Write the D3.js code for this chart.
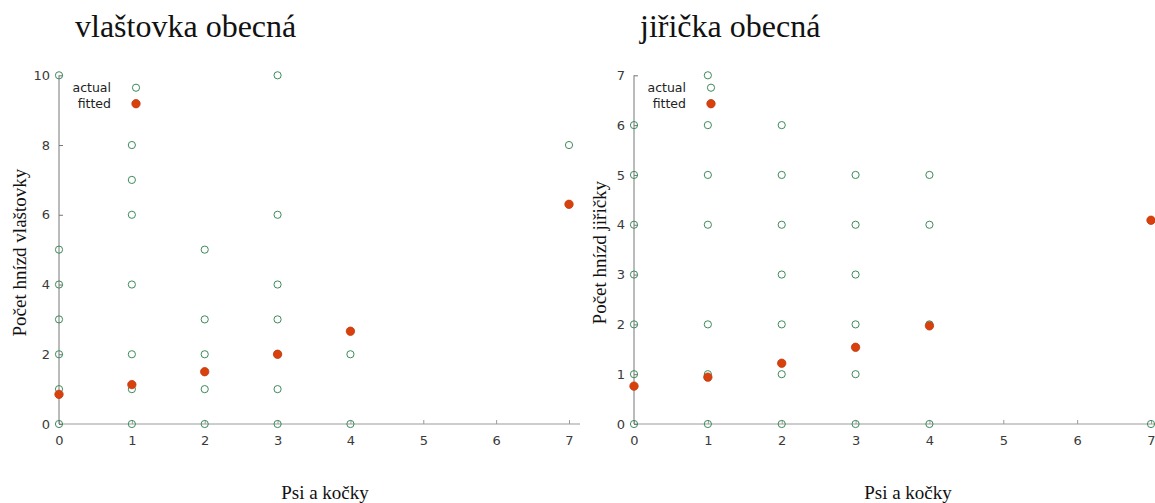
<!DOCTYPE html>
<html>
<head>
<meta charset="utf-8">
<script src="https://cdn.jsdelivr.net/npm/d3@7"></script>
<style>
  html, body { margin: 0; padding: 0; background: #fff; }
  svg { display: block; }
</style>
</head>
<body>
<svg id="chart" width="1155" height="503"></svg>
<script>
// Number of dogs and cats per household
const xTicks = [0, 1, 2, 3, 4, 5, 6, 7];

// Barn swallow (vlaštovka obecná): observed nest counts
const swallowActualX = [0,0,0,0,0,0,0, 1,1,1,1,1,1,1, 2,2,2,2,2, 3,3,3,3,3,3,3, 4,4, 7];
const swallowActualY = [0,1,2,3,4,5,10, 0,1,2,4,6,7,8, 0,1,2,3,5, 0,1,2,3,4,6,10, 0,2, 8];
// Barn swallow: model-fitted values
const swallowFittedX = [0, 1, 2, 3, 4, 7];
const swallowFittedY = [0.85, 1.13, 1.5, 2.0, 2.66, 6.3];
const swallowYTicks = [0, 2, 4, 6, 8, 10];

// House martin (jiřička obecná): observed nest counts
const martinActualX = [0,0,0,0,0,0,0, 1,1,1,1,1,1,1, 2,2,2,2,2,2,2, 3,3,3,3,3,3, 4,4,4,4, 7];
const martinActualY = [0,1,2,3,4,5,6, 0,1,2,4,5,6,7, 0,1,2,3,4,5,6, 0,1,2,3,4,5, 0,2,4,5, 0];
// House martin: model-fitted values
const martinFittedX = [0, 1, 2, 3, 4, 7];
const martinFittedY = [0.76, 0.94, 1.22, 1.54, 1.97, 4.09];
const martinYTicks = [0, 1, 2, 3, 4, 5, 6, 7];

const legendLabels = ["actual", "fitted"];

const svg = d3.select("#chart");

const panels = [
  {
    title: "vlaštovka obecná", titleX: 75,
    yLabel: "Počet hnízd vlaštovky", yLabelX: 26,
    xLabel: "Psi a kočky", xLabelX: 325,
    x0: 59, x1: 569, axisEnd: 580,
    yMax: 10, yTicks: swallowYTicks,
    ax: swallowActualX, ay: swallowActualY,
    fx: swallowFittedX, fy: swallowFittedY,
    legendX: 136
  },
  {
    title: "jiřička obecná", titleX: 640,
    yLabel: "Počet hnízd jiřičky", yLabelX: 606,
    xLabel: "Psi a kočky", xLabelX: 908,
    x0: 634, x1: 1151, axisEnd: 1160,
    yMax: 7, yTicks: martinYTicks,
    ax: martinActualX, ay: martinActualY,
    fx: martinFittedX, fy: martinFittedY,
    legendX: 711
  }
];

const yTop = 75.3, yBottom = 424;
const axisColor = "#9a9a9a";
const tickTextColor = "#3a3a3a";
const green = "#3d8a5c";
const red = "#d8400c";

panels.forEach(p => {
  const x = d3.scaleLinear().domain([0, 7]).range([p.x0, p.x1]);
  const y = d3.scaleLinear().domain([0, p.yMax]).range([yBottom, yTop]);
  const g = svg.append("g");

  // title
  g.append("text")
    .attr("x", p.titleX).attr("y", 37)
    .attr("font-family", "'Liberation Serif', 'Times New Roman', serif")
    .attr("font-size", 32)
    .attr("fill", "#111")
    .text(p.title);

  // x axis with inward ticks
  const xAxis = d3.axisBottom(x).tickValues(xTicks).tickSizeInner(-4).tickSizeOuter(0).tickPadding(12)
    .tickFormat(d3.format("d"));
  const xg = g.append("g").attr("transform", `translate(0,${yBottom})`).call(xAxis);
  xg.select(".domain").remove();
  xg.append("line").attr("x1", p.x0).attr("x2", p.axisEnd).attr("y1", 0).attr("y2", 0)
    .attr("stroke", axisColor);
  xg.selectAll(".tick line").attr("stroke", axisColor);
  xg.selectAll(".tick text")
    .attr("font-family", "'DejaVu Sans', Verdana, sans-serif")
    .attr("font-size", 13).attr("fill", tickTextColor);

  // y axis with inward ticks
  const yAxis = d3.axisLeft(y).tickValues(p.yTicks).tickSizeInner(-4).tickSizeOuter(0).tickPadding(9)
    .tickFormat(d3.format("d"));
  const yg = g.append("g").attr("transform", `translate(${p.x0},0)`).call(yAxis);
  yg.select(".domain").remove();
  yg.append("line").attr("x1", 0).attr("x2", 0).attr("y1", yTop).attr("y2", yBottom)
    .attr("stroke", "#777");
  yg.selectAll(".tick line").attr("stroke", "#777");
  yg.selectAll(".tick text")
    .attr("font-family", "'DejaVu Sans', Verdana, sans-serif")
    .attr("font-size", 13).attr("fill", tickTextColor);

  // axis titles
  g.append("text")
    .attr("transform", `translate(${p.yLabelX},${(yTop + yBottom) / 2 + 3}) rotate(-90)`)
    .attr("text-anchor", "middle")
    .attr("font-family", "'Liberation Serif', 'Times New Roman', serif")
    .attr("font-size", 19).attr("fill", "#111")
    .text(p.yLabel);
  g.append("text")
    .attr("x", p.xLabelX).attr("y", 499)
    .attr("text-anchor", "middle")
    .attr("font-family", "'Liberation Serif', 'Times New Roman', serif")
    .attr("font-size", 19).attr("fill", "#111")
    .text(p.xLabel);

  // observed points (open circles)
  g.append("g").selectAll("circle")
    .data(p.ax.map((v, i) => [v, p.ay[i]]))
    .join("circle")
    .attr("cx", d => x(d[0])).attr("cy", d => y(d[1]))
    .attr("r", 3.6)
    .attr("fill", "none").attr("stroke", green).attr("stroke-width", 1);

  // fitted points (filled)
  g.append("g").selectAll("circle")
    .data(p.fx.map((v, i) => [v, p.fy[i]]))
    .join("circle")
    .attr("cx", d => x(d[0])).attr("cy", d => y(d[1]))
    .attr("r", 4.2)
    .attr("fill", red).attr("stroke", "#c03a10").attr("stroke-width", 0.8);

  // legend
  const leg = g.append("g");
  legendLabels.forEach((lab, i) => {
    const ly = 87.7 + i * 16;
    leg.append("text")
      .attr("x", p.legendX - 25).attr("y", ly + 4.5)
      .attr("text-anchor", "end")
      .attr("font-family", "'DejaVu Sans', Verdana, sans-serif")
      .attr("font-size", 12.5).attr("fill", "#222")
      .text(lab);
    if (i === 0) {
      leg.append("circle").attr("cx", p.legendX).attr("cy", ly).attr("r", 3.6)
        .attr("fill", "none").attr("stroke", green).attr("stroke-width", 1);
    } else {
      leg.append("circle").attr("cx", p.legendX).attr("cy", ly).attr("r", 4.2)
        .attr("fill", red).attr("stroke", "#c03a10").attr("stroke-width", 0.8);
    }
  });
});
</script>
</body>
</html>
